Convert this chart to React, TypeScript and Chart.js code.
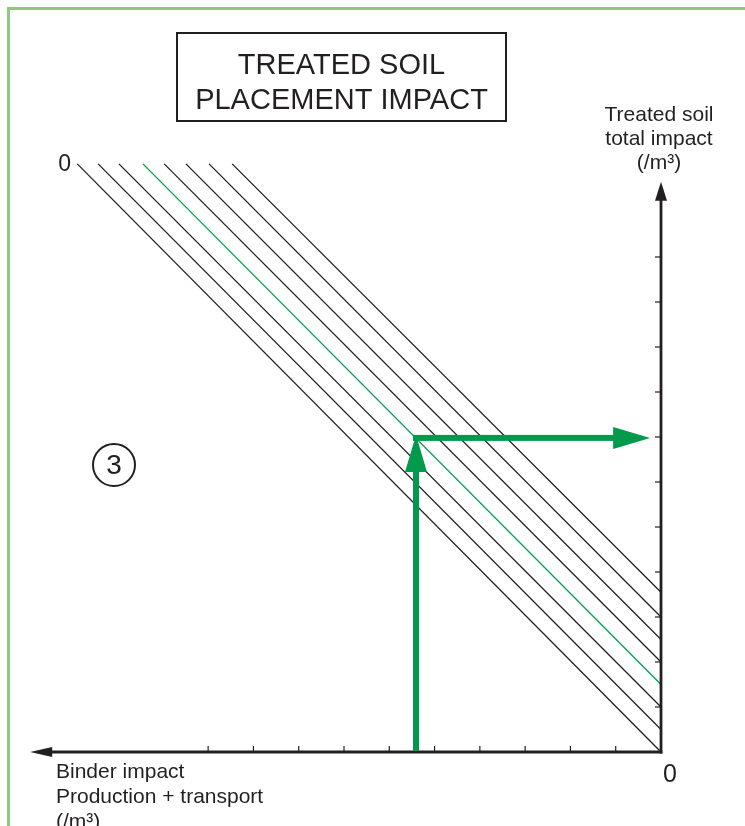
import React, { useEffect, useRef } from 'react';
import { Chart, registerables } from 'chart.js';

Chart.register(...registerables);

// ---- data ----
const lineLabels = ['c0', 'c1', 'c2', 'c3', 'c4', 'c5', 'c6', 'c7'];
const binderAtTop = [12.89, 12.43, 11.97, 11.44, 10.97, 10.49, 9.98, 9.47];
const totalAtZeroBinder = [0, 0.5, 1.0, 1.5, 2.0, 2.5, 3.0, 3.55];
const topTotal = 13.07;
const highlightedIndex = 3;

const xTicks = [1, 2, 3, 4, 5, 6, 7, 8, 9, 10];
const yTicks = [1, 2, 3, 4, 5, 6, 7, 8, 9, 10, 11];
const xAxisEnd = 13.93;
const yAxisEnd = 12.67;

const exampleBinder = 5.41;
const exampleTotal = 6.98;
const exampleArrowEndBinder = 0.24;

const titleLines = ['TREATED SOIL', 'PLACEMENT IMPACT'];
const yTitleLines = ['Treated soil', 'total impact', '(/m³)'];
const xTitleLines = ['Binder impact', 'Production + transport', '(/m³)'];
const stepLabel = '3';
const zeroLabel = '0';

// ---- styles ----
const FONT = "'Liberation Sans', Arial, Helvetica, sans-serif";
const INK = '#231f20';
const GREEN_LINE = '#00a04e';
const GREEN_ARROW = '#009a4c';
const FRAME = '#8dc981';

const nomogramPlugin = {
  id: 'nomogram',
  beforeDraw(chart: any) {
    const ctx = chart.ctx;
    ctx.save();
    ctx.fillStyle = '#ffffff';
    ctx.fillRect(0, 0, chart.width, chart.height);
    // outer green frame
    ctx.strokeStyle = FRAME;
    ctx.lineWidth = 3;
    ctx.strokeRect(8.5, 8.5, 900, 1000);
    ctx.restore();
  },
  afterDatasetsDraw(chart: any) {
    const ctx = chart.ctx;
    const xs = chart.scales.x;
    const ys = chart.scales.y;
    const X = (v: number) => xs.getPixelForValue(v);
    const Y = (v: number) => ys.getPixelForValue(v);
    const x0 = X(0);
    const y0 = Y(0);

    ctx.save();
    // ---- axes ----
    ctx.strokeStyle = INK;
    ctx.fillStyle = INK;
    ctx.lineWidth = 2.8;
    ctx.lineCap = 'butt';
    // y axis
    const yTip = Y(yAxisEnd);
    ctx.beginPath();
    ctx.moveTo(x0, y0 + 1.4);
    ctx.lineTo(x0, yTip + 15);
    ctx.stroke();
    ctx.beginPath();
    ctx.moveTo(x0, yTip);
    ctx.lineTo(x0 - 6, yTip + 19);
    ctx.lineTo(x0 + 6, yTip + 19);
    ctx.closePath();
    ctx.fill();
    // x axis
    const xTip = X(xAxisEnd);
    ctx.beginPath();
    ctx.moveTo(x0 + 1.4, y0);
    ctx.lineTo(xTip + 18, y0);
    ctx.stroke();
    ctx.beginPath();
    ctx.moveTo(xTip, y0);
    ctx.lineTo(xTip + 22, y0 - 5);
    ctx.lineTo(xTip + 22, y0 + 5);
    ctx.closePath();
    ctx.fill();
    // ticks
    ctx.lineWidth = 1.2;
    xTicks.forEach((t) => {
      const px = X(t);
      ctx.beginPath();
      ctx.moveTo(px, y0);
      ctx.lineTo(px, y0 - 6);
      ctx.stroke();
    });
    yTicks.forEach((t) => {
      const py = Y(t);
      ctx.beginPath();
      ctx.moveTo(x0, py);
      ctx.lineTo(x0 - 6, py);
      ctx.stroke();
    });

    // ---- green example arrows ----
    const ax = X(exampleBinder);
    const ay = Y(exampleTotal);
    const shaft = 6;
    const headLen = 37;
    const headHalf = 11;
    ctx.fillStyle = GREEN_ARROW;
    // vertical
    const vTip = ay - 3;
    ctx.fillRect(ax - shaft / 2, vTip + headLen - 2, shaft, y0 - (vTip + headLen - 2) - 1);
    ctx.beginPath();
    ctx.moveTo(ax, vTip);
    ctx.lineTo(ax - headHalf, vTip + headLen);
    ctx.lineTo(ax + headHalf, vTip + headLen);
    ctx.closePath();
    ctx.fill();
    // horizontal
    const hTip = X(exampleArrowEndBinder);
    ctx.fillRect(ax - shaft / 2, ay - shaft / 2, hTip - headLen + 2 - (ax - shaft / 2), shaft);
    ctx.beginPath();
    ctx.moveTo(hTip, ay);
    ctx.lineTo(hTip - headLen, ay - headHalf);
    ctx.lineTo(hTip - headLen, ay + headHalf);
    ctx.closePath();
    ctx.fill();

    // ---- texts ----
    ctx.fillStyle = INK;
    ctx.textBaseline = 'alphabetic';
    // title box
    ctx.strokeStyle = INK;
    ctx.lineWidth = 2;
    ctx.strokeRect(177, 33, 329, 88);
    ctx.font = `29px ${FONT}`;
    ctx.textAlign = 'center';
    ctx.fillText(titleLines[0], 341.5, 74);
    ctx.fillText(titleLines[1], 341.5, 109);

    // y axis title
    ctx.font = `21px ${FONT}`;
    yTitleLines.forEach((s, i) => ctx.fillText(s, x0 - 2, 121 + i * 24));

    // x axis title
    ctx.textAlign = 'left';
    xTitleLines.forEach((s, i) => ctx.fillText(s, 56, 778 + i * 25));

    // zero labels
    ctx.font = `23px ${FONT}`;
    ctx.textAlign = 'right';
    ctx.fillText(zeroLabel, 71, 171);
    ctx.font = `25px ${FONT}`;
    ctx.textAlign = 'left';
    ctx.fillText(zeroLabel, 663, 782);

    // step marker
    ctx.lineWidth = 2;
    ctx.beginPath();
    ctx.arc(114, 465, 21, 0, Math.PI * 2);
    ctx.stroke();
    ctx.font = `28px ${FONT}`;
    ctx.textAlign = 'center';
    ctx.textBaseline = 'middle';
    ctx.fillText(stepLabel, 114, 466);

    ctx.restore();
  },
};

export default function App() {
  const canvasRef = useRef<HTMLCanvasElement | null>(null);

  useEffect(() => {
    if (!canvasRef.current) return;
    const datasets = lineLabels.map((label, i) => ({
      label,
      data: [
        { x: binderAtTop[i], y: topTotal },
        { x: 0, y: totalAtZeroBinder[i] },
      ],
      showLine: true,
      borderColor: i === highlightedIndex ? GREEN_LINE : INK,
      borderWidth: 1.3,
      pointRadius: 0,
      fill: false,
      clip: false as any,
    }));

    const chart = new Chart(canvasRef.current, {
      type: 'scatter',
      data: { datasets },
      options: {
        responsive: false,
        animation: false,
        devicePixelRatio: 1,
        layout: { padding: { left: 27, right: 84, top: 122, bottom: 74 } },
        scales: {
          x: { type: 'linear', reverse: true, min: 0, max: 14, display: false },
          y: { type: 'linear', min: 0, max: 14, display: false },
        },
        plugins: {
          legend: { display: false },
          tooltip: { enabled: false },
          title: { display: false },
        },
        events: [],
      },
      plugins: [nomogramPlugin],
    });
    return () => chart.destroy();
  }, []);

  return (
    <div style={{ position: 'absolute', left: 0, top: 0, width: 745, height: 826, overflow: 'hidden' }}>
      <canvas ref={canvasRef} width={745} height={826} style={{ display: 'block' }} />
    </div>
  );
}
